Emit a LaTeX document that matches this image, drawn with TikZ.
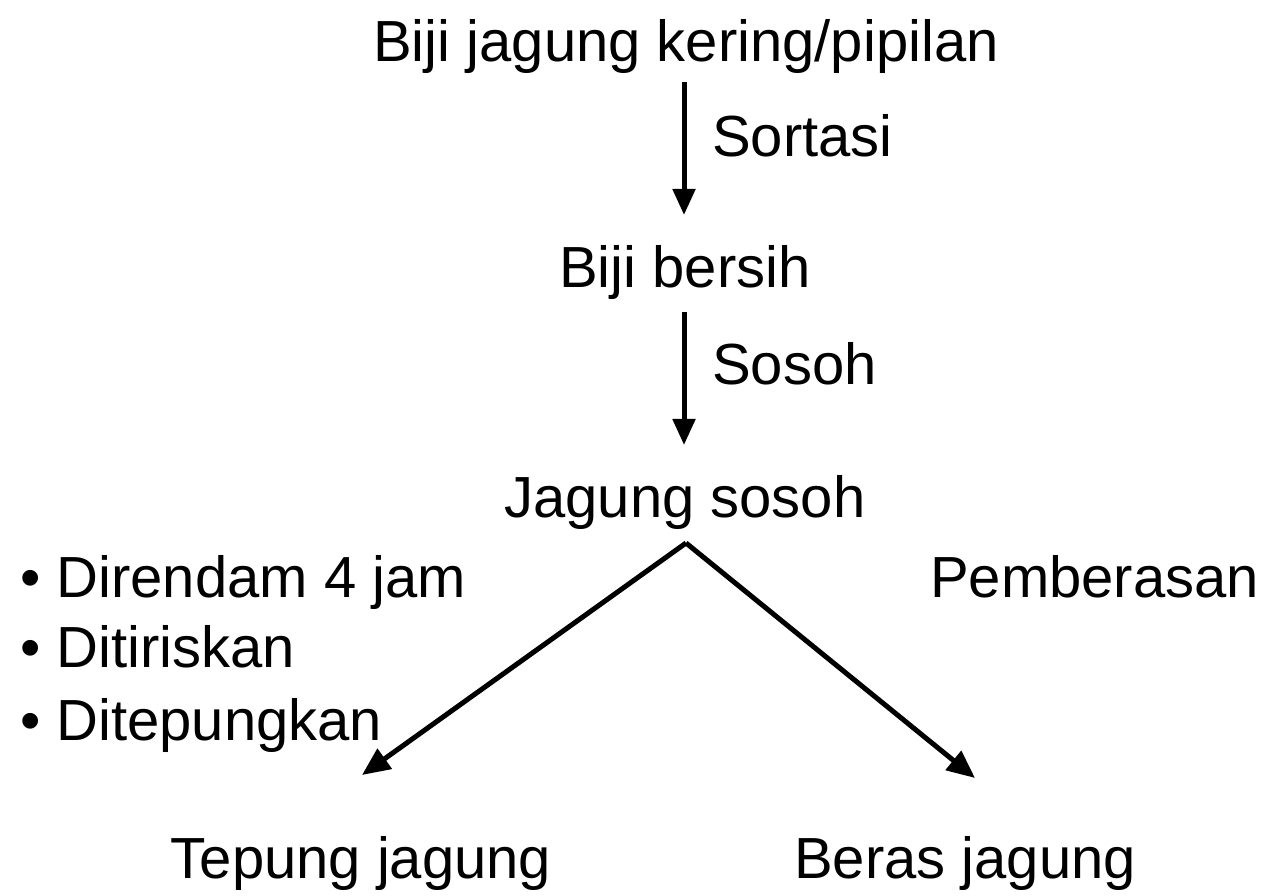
\documentclass[tikz,border=0pt]{standalone}
\usepackage{fontspec}
\setmainfont{Liberation Sans}
\usetikzlibrary{arrows.meta}
\begin{document}
\begin{tikzpicture}[x=1pt,y=1pt,
  lbl/.style={font=\fontsize{58}{64}\selectfont, inner sep=0pt, anchor=base},
  lblw/.style={lbl, anchor=base west},
  flow/.style={line width=5pt, -{Triangle[length=26pt,width=22pt]}},
  branch/.style={line width=5pt, -{Triangle[length=28pt,width=24pt]}}]
\useasboundingbox (0,0) rectangle (1287,895);
% main chain
\node[lbl] (raw) at (686,833) {Biji jagung kering/pipilan};
\node[lbl] (clean) at (685,607) {Biji bersih};
\node[lbl] (hulled) at (685,377) {Jagung sosoh};
\node[lbl] (flour) at (361,17) {Tepung jagung};
\node[lbl] (rice) at (965,17) {Beras jagung};
% process labels
\node[lblw] (sort) at (712,738) {Sortasi};
\node[lblw] (sosoh) at (712,510) {Sosoh};
\node[lblw] (pemb) at (930,298) {Pemberasan};
\node[lblw] (b1) at (20,298) {• Direndam 4 jam};
\node[lblw] (b2) at (20,228) {• Ditiriskan};
\node[lblw] (b3) at (20,155) {• Ditepungkan};
% connectors
\coordinate (a1s) at (684,813);
\coordinate (a1e) at (684,680);
\coordinate (a2s) at (684,583);
\coordinate (a2e) at (684,450);
\coordinate (apex) at (686,352);
\coordinate (lend) at (362,120);
\coordinate (rend) at (975,117);
\draw[flow] (a1s) -- (a1e);
\draw[flow] (a2s) -- (a2e);
\draw[branch] (apex) -- (lend);
\draw[branch] (apex) -- (rend);
\end{tikzpicture}
\end{document}
